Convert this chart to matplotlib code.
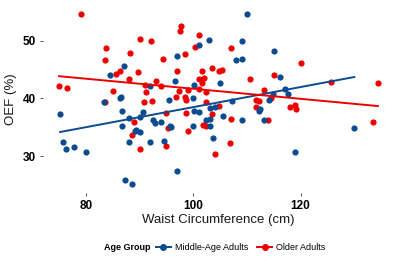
import numpy as np
import matplotlib
matplotlib.use("Agg")
import matplotlib.pyplot as plt
from matplotlib.lines import Line2D

plt.rcParams["font.family"] = ["Liberation Sans", "DejaVu Sans"]

# Middle-Age Adults
mid_waist = [75.2, 75.8, 76.2, 77.8, 80.0, 83.3, 84.5, 87.0, 86.3, 86.5, 86.8, 86.8,
             88.1, 88.0, 89.1, 89.4, 90.0, 90.7, 90.0, 87.3, 88.5, 92.0, 92.0, 92.5,
             92.9, 94.0, 94.5, 95.5, 95.6, 95.8, 96.6, 97.0, 97.0, 100.0, 100.2, 100.0,
             100.2, 101.0, 101.0, 110.1, 103.0, 109.0, 108.0, 109.0, 115.1, 116.1, 105.0,
             117.1, 117.6, 114.8, 114.1, 107.2, 103.1, 104.1, 112.5, 112.3, 105.5, 102.3,
             103.1, 103.1, 109.0, 113.1, 103.6, 119.0, 130.0]
mid_oef = [37.3, 32.5, 31.3, 31.6, 30.7, 39.4, 44.0, 45.7, 40.1, 40.2, 37.9, 35.2,
           36.7, 32.5, 34.3, 34.6, 34.1, 37.7, 36.8, 25.8, 25.1, 32.5, 42.2, 36.3,
           35.7, 36.0, 32.7, 39.7, 35.2, 35.1, 43.0, 47.4, 27.5, 40.0, 37.8, 35.3,
           42.3, 37.7, 49.3, 54.6, 50.2, 49.9, 46.6, 46.9, 48.2, 43.8, 42.6,
           41.6, 40.7, 40.7, 39.8, 39.6, 38.4, 38.6, 38.2, 37.8, 37.0, 36.3,
           36.5, 35.3, 36.3, 36.3, 33.2, 30.7, 34.8]

# Older Adults
old_waist = [79.0, 75.0, 76.5, 83.8, 83.5, 86.3, 85.6, 88.0, 88.3, 90.0, 92.2, 89.7,
             91.0, 91.2, 93.0, 85.0, 83.5, 90.8, 92.3, 89.0, 88.5, 90.0, 94.3, 94.0,
             95.0, 95.2, 95.0, 97.0, 97.8, 97.5, 98.5, 97.3, 96.7, 98.5, 99.1, 98.6,
             99.1, 101.0, 100.3, 101.0, 101.1, 107.0, 103.5, 104.7, 105.4, 101.6, 102.0,
             101.7, 110.5, 115.0, 120.1, 125.6, 134.4, 102.4, 102.4, 104.8, 103.4, 101.8,
             102.3, 107.1, 106.8, 104.0, 111.6, 112.3, 111.6, 113.1, 114.5, 114.0, 118.1,
             118.9, 119.1, 133.4, 98.6]
old_oef = [54.7, 42.2, 41.8, 48.7, 46.6, 44.7, 44.2, 43.4, 47.9, 50.3, 49.9, 44.6,
           42.4, 41.1, 43.0, 41.3, 39.4, 39.4, 39.6, 35.9, 33.7, 31.2, 46.9, 42.1,
           37.5, 34.8, 31.7, 44.7, 52.5, 51.7, 47.7, 41.3, 40.2, 40.3, 41.5, 37.5,
           34.3, 51.0, 49.0, 43.4, 41.6, 48.8, 45.3, 44.8, 45.0, 44.7, 43.5,
           42.7, 43.4, 44.0, 46.2, 42.9, 42.6, 41.2, 39.4, 38.7, 37.3, 35.4,
           35.3, 36.5, 32.2, 30.4, 39.8, 39.6, 38.6, 41.4, 40.1, 36.3, 38.5,
           38.8, 38.2, 35.9, 39.7]

blue = "#0B4B8F"
red = "#EE0000"

fig = plt.figure(figsize=(4, 2.67), dpi=100)
ax = fig.add_axes([0.1075, 0.277, 0.8775, 0.704])

ax.scatter(old_waist, old_oef, s=20, color=red, linewidths=0, zorder=2)
ax.scatter(mid_waist, mid_oef, s=20, color=blue, linewidths=0, zorder=2)

# linear fits per group
for xs, ys, c, z in [(mid_waist, mid_oef, blue, 3), (old_waist, old_oef, red, 4)]:
    xs = np.array(xs)
    k, b = np.polyfit(xs, ys, 1)
    xl = np.array([xs.min(), xs.max()])
    ax.plot(xl, k * xl + b, color=c, lw=1.4, zorder=z)

ax.set_xlim(72.0, 137.4)
ax.set_ylim(23.6, 56.2)
ax.set_xticks([80, 100, 120])
ax.set_yticks([30, 40, 50])
for s in ax.spines.values():
    s.set_visible(False)
ax.tick_params(length=2.5, width=0.6, color="#333333", labelsize=8.5, pad=2.5)
for lab in ax.get_xticklabels() + ax.get_yticklabels():
    lab.set_fontweight("bold")
ax.set_xlabel("Waist Circumference (cm)", fontsize=9.5, labelpad=1.5, color="#1a1a1a")
ax.set_ylabel("OEF (%)", fontsize=9.5, labelpad=4, color="#1a1a1a")

handles = [Line2D([], [], color=blue, lw=1.4, marker="o", ms=4),
           Line2D([], [], color=red, lw=1.4, marker="o", ms=4)]
fig.text(0.26, 0.072, "Age Group", fontsize=6.5, fontweight="bold", va="center")
fig.legend(handles, ["Middle-Age Adults", "Older Adults"], ncol=2, frameon=False,
           fontsize=6.5, loc="center left", bbox_to_anchor=(0.37, 0.072),
           handlelength=1.6, handletextpad=0.5, columnspacing=1.0)

fig.savefig("out.png", dpi=100)
